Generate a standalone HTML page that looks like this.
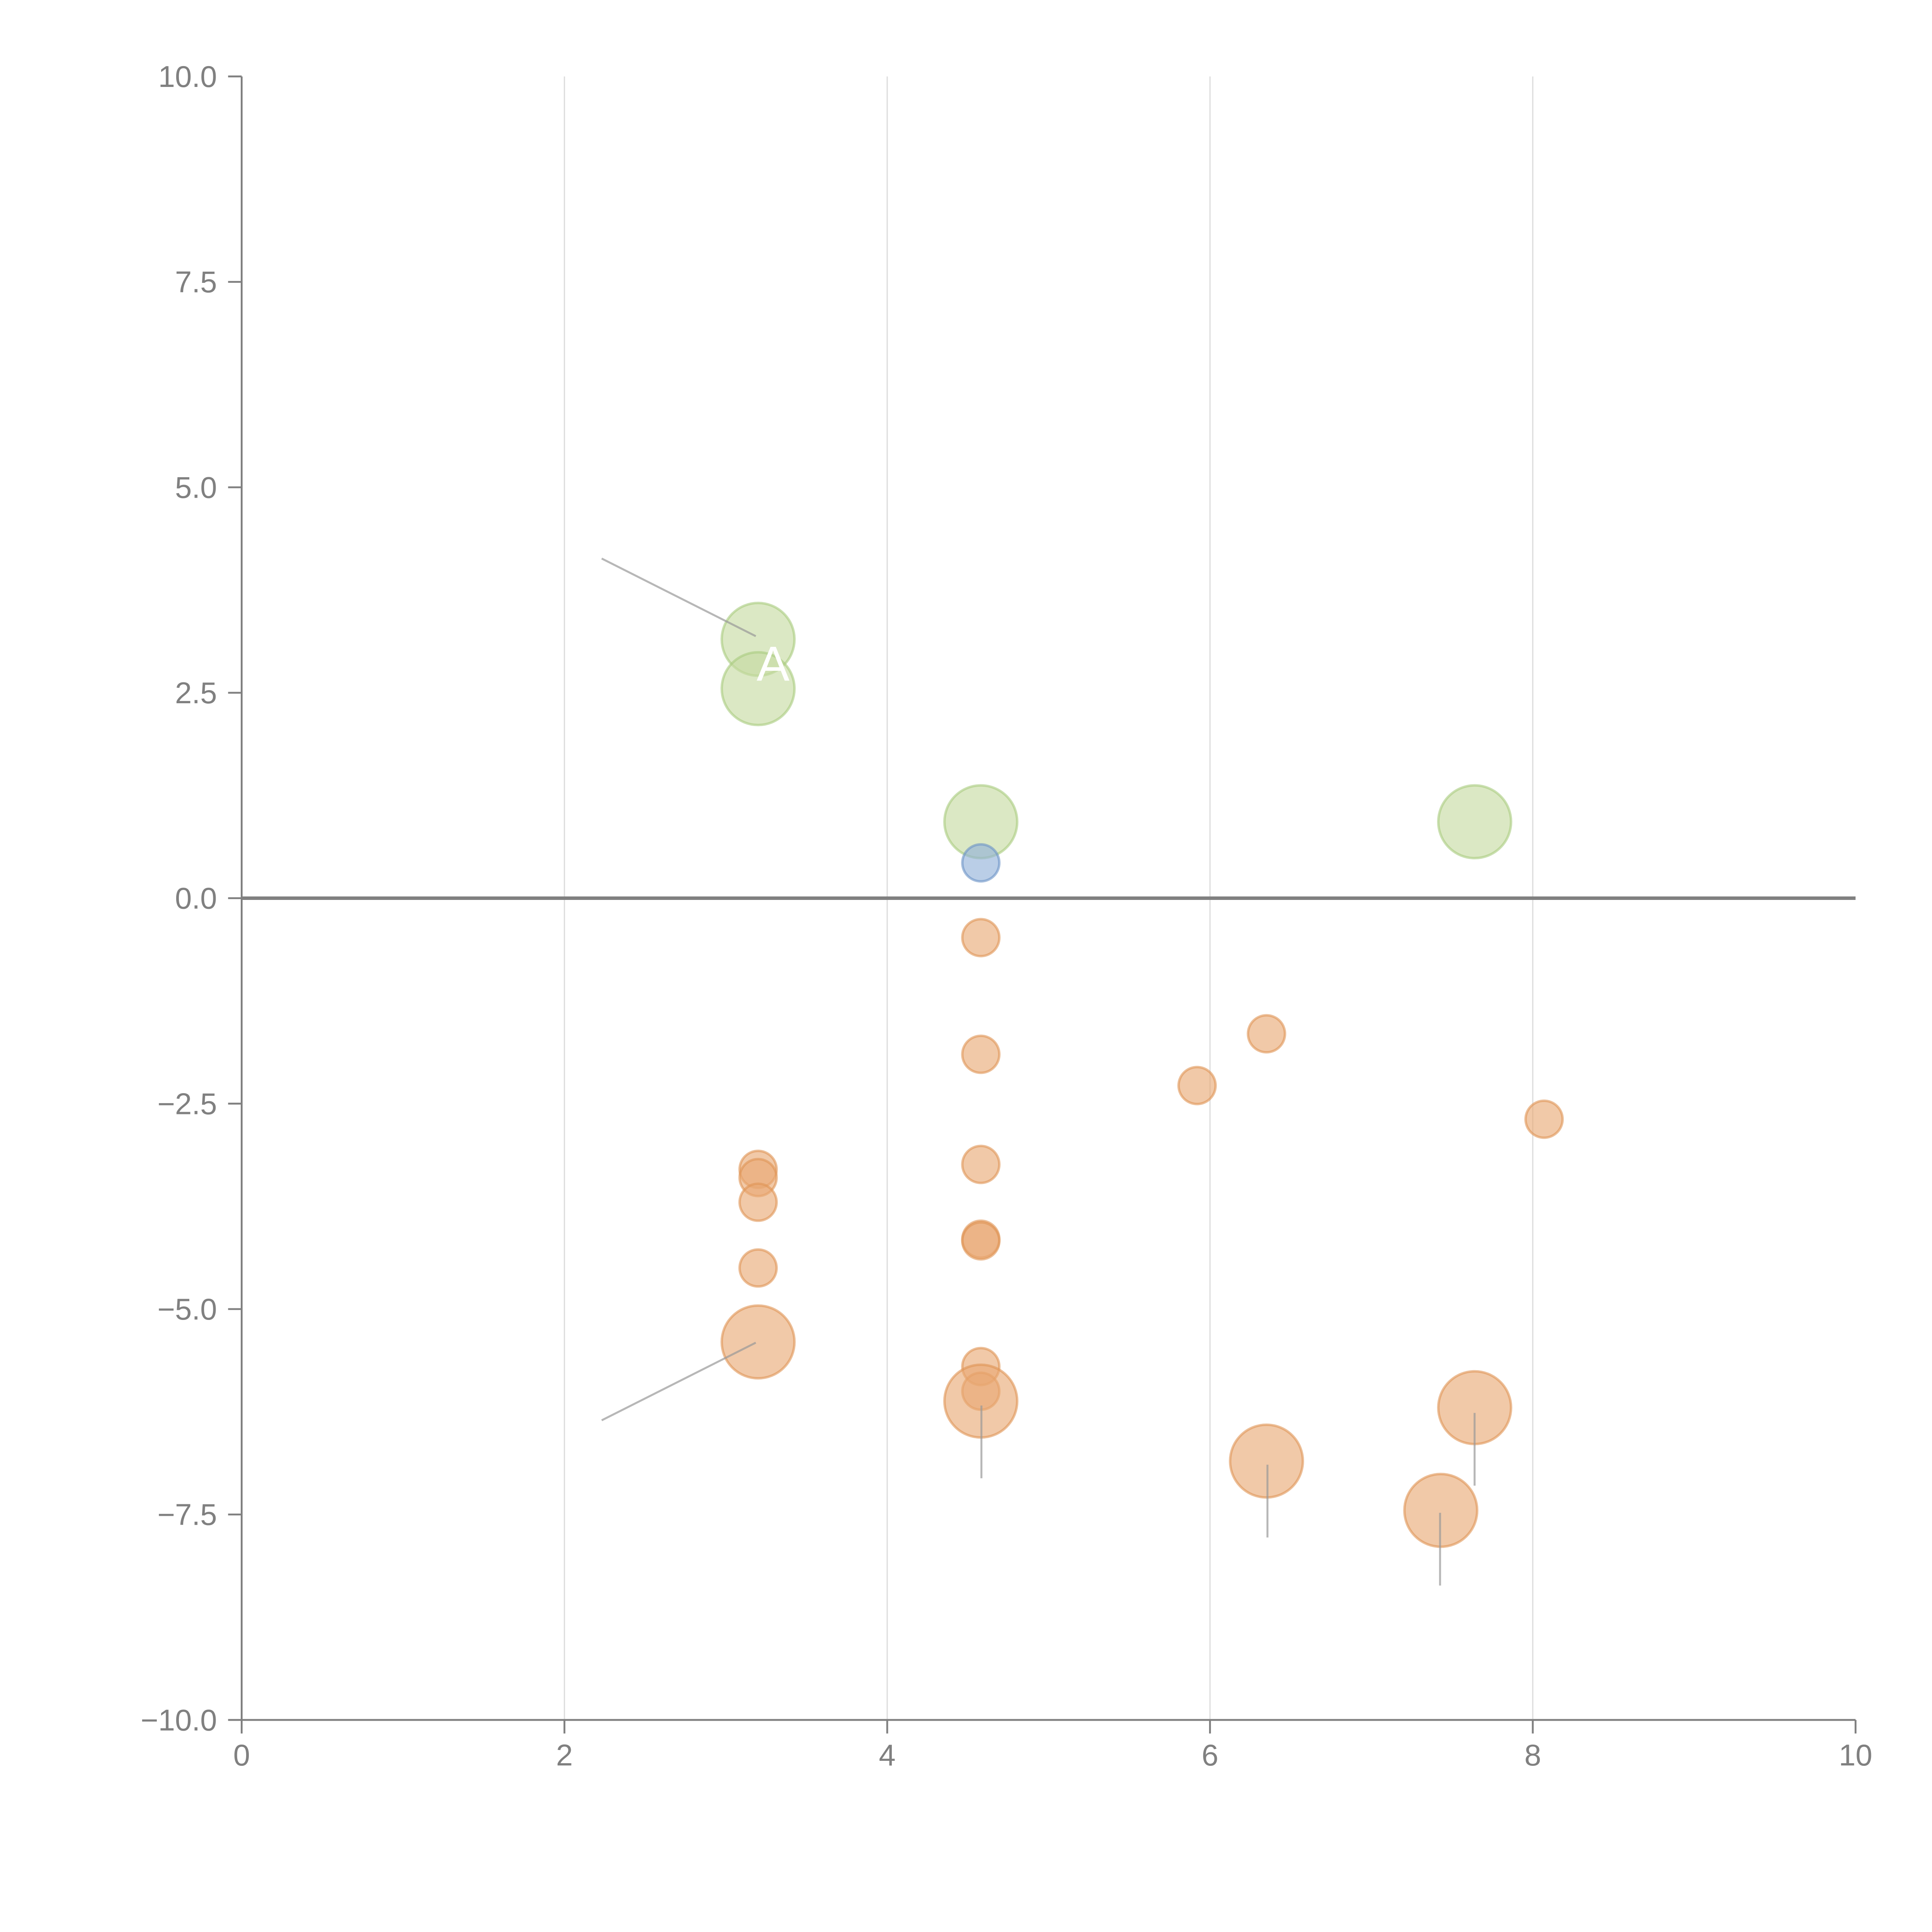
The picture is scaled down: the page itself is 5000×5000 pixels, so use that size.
<!DOCTYPE html>
<html><head><meta charset="utf-8"><style>html,body{margin:0;padding:0;background:#fff}svg{display:block}</style></head>
<body>
<svg id="chart" width="5000" height="5000" viewBox="0 0 1567 1567" xmlns="http://www.w3.org/2000/svg" font-family="Liberation Sans, sans-serif">
<g id="grid"></g>
<g id="axes"></g>
<g id="marks"></g>
<g id="notes"></g>
</svg>
<script>
const xTicks = [0, 2, 4, 6, 8, 10];
const yTicks = [10, 7.5, 5, 2.5, 0, -2.5, -5, -7.5, -10];
const yTickLabels = ["10.0", "7.5", "5.0", "2.5", "0.0", "\u22122.5", "\u22125.0", "\u22127.5", "\u221210.0"];
const pointX = [3.2, 3.2, 4.58, 7.64, 4.58, 4.58, 4.58, 5.92, 6.35, 8.07, 3.2, 3.2, 3.2, 3.2, 4.58, 4.58, 4.58, 3.2, 4.58, 4.58, 4.58, 6.35, 7.43, 7.64];
const pointY = [3.15, 2.55, 0.93, 0.93, 0.43, -0.48, -1.9, -2.28, -1.65, -2.69, -3.3, -3.4, -3.7, -4.5, -3.24, -4.15, -4.17, -5.4, -5.7, -6.0, -6.12, -6.85, -7.45, -6.2];
const pointSize = [2, 2, 2, 2, 1, 1, 1, 1, 1, 1, 1, 1, 1, 1, 1, 1, 1, 2, 1, 1, 2, 2, 2, 2];
const pointGroup = ["g", "g", "g", "g", "b", "o", "o", "o", "o", "o", "o", "o", "o", "o", "o", "o", "o", "o", "o", "o", "o", "o", "o", "o"];

const X0 = 196, X1 = 1505, Y0 = 1395, Y1 = 62;
const sx = v => X0 + (v - 0) / 10 * (X1 - X0);
const sy = v => Y0 - (v + 10) / 20 * (Y0 - Y1);
const NS = "http://www.w3.org/2000/svg";
function mk(tag, attrs, parent) { const e = document.createElementNS(NS, tag); for (const k in attrs) e.setAttribute(k, attrs[k]); parent.appendChild(e); return e; }
const grid = document.getElementById('grid'), axes = document.getElementById('axes'), marks = document.getElementById('marks'), notes = document.getElementById('notes');

xTicks.forEach(t => {
  if (t > 0 && t < 10) {
    const g = mk('line', {x1: sx(t), x2: sx(t), y1: Y1, y2: Y0, stroke: '#dddddd', 'stroke-width': 1}, grid);
    
    
  }
  const tk = mk('line', {x1: sx(t), x2: sx(t), y1: Y0, y2: Y0 + 11, stroke: '#808080', 'stroke-width': 1.5}, axes);
  
  
  const lb = mk('text', {x: sx(t), y: Y0 + 37, 'text-anchor': 'middle', 'font-size': 24.5, fill: '#808080'}, axes);
  lb.textContent = t;
  
  
});
yTicks.forEach((t, i) => {
  const tk = mk('line', {x1: X0 - 11, x2: X0, y1: sy(t), y2: sy(t), stroke: '#808080', 'stroke-width': 1.5}, axes);
  
  
  const lb = mk('text', {x: X0 - 20, y: sy(t) + 8.5, 'text-anchor': 'end', 'font-size': 24.5, fill: '#808080'}, axes);
  lb.textContent = yTickLabels[i];
  
  
});
const ya = mk('line', {x1: X0, x2: X0, y1: Y1, y2: Y0, stroke: '#808080', 'stroke-width': 1.5}, axes);


const xa = mk('line', {x1: X0, x2: X1, y1: Y0, y2: Y0, stroke: '#808080', 'stroke-width': 1.5}, axes);


const zl = mk('line', {x1: X0, x2: X1, y1: sy(0), y2: sy(0), stroke: '#808080', 'stroke-width': 2.8}, axes);



const fills = {g: '#c5da9f', o: '#e8a873', b: '#8fb0d8'};
const strokes = {g: '#a9cb7f', o: '#e09455', b: '#6b93c6'};
pointX.forEach((x, i) => {
  const c = mk('circle', {cx: sx(x), cy: sy(pointY[i]), r: pointSize[i] === 2 ? 29.5 : 15, fill: fills[pointGroup[i]], 'fill-opacity': 0.62, stroke: strokes[pointGroup[i]], 'stroke-opacity': 0.6, 'stroke-width': 2}, marks);
  
  
});

[[488,453,613,516],[488,1152,613,1089],[796,1140,796,1199],[1028,1188,1028,1247],[1168,1227,1168,1286],[1196,1146,1196,1205]].forEach(s => {
  const l = mk('line', {x1: s[0], y1: s[1], x2: s[2], y2: s[3], stroke: '#999999', 'stroke-opacity': 0.7, 'stroke-width': 1.6}, notes);
  
  
});
const a = mk('text', {x: 627, y: 552, 'text-anchor': 'middle', 'font-size': 40, fill: '#ffffff'}, notes);
a.textContent = 'A';


</script>
</body></html>
